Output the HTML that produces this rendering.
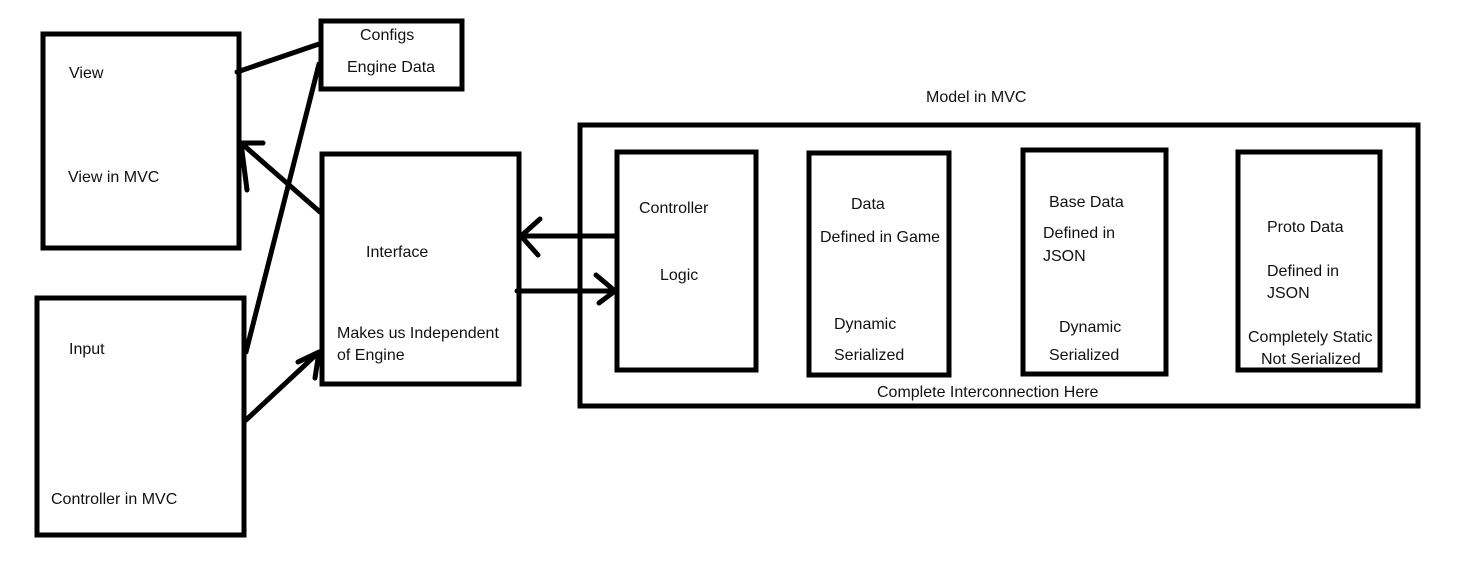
<!DOCTYPE html>
<html><head><meta charset="utf-8"><style>
html,body{margin:0;padding:0;background:#fff;}
svg text{font-family:"Liberation Sans",sans-serif;font-size:16px;fill:#111;}
</style></head><body>
<svg width="1461" height="567" xmlns="http://www.w3.org/2000/svg">
<g fill="none" stroke="#000" stroke-width="5" stroke-linecap="round" stroke-linejoin="miter">
<rect x="43" y="34" width="196" height="214" stroke-linecap="butt"/>
<rect x="37" y="298" width="207" height="237"/>
<rect x="321" y="21" width="141" height="68"/>
<rect x="322" y="154" width="197" height="230"/>
<rect x="580" y="125" width="838" height="281"/>
<rect x="617" y="152" width="139" height="218"/>
<rect x="809" y="153" width="140" height="222"/>
<rect x="1023" y="150" width="143" height="224"/>
<rect x="1238" y="152" width="142" height="218"/>
<path d="M237 72 L319 44"/>
<path d="M246 352 L319 64"/>
<path d="M320 212 L241 143 M241 143 L263 143 M241 143 L247 190"/>
<path d="M246 420 L319 352 M319 352 L298 362 M319 352 L315 378"/>
<path d="M616 236 L521 236 M521 236 L540 219 M521 236 L538 255"/>
<path d="M517 291 L615 291 M615 291 L596 275 M615 291 L599 303"/>
</g>
<text x="69" y="78">View</text>
<text x="68" y="182">View in MVC</text>
<text x="69" y="354">Input</text>
<text x="51" y="504">Controller in MVC</text>
<text x="360" y="40">Configs</text>
<text x="347" y="72">Engine Data</text>
<text x="366" y="257">Interface</text>
<text x="337" y="338">Makes us Independent</text>
<text x="337" y="360">of Engine</text>
<text x="926" y="102">Model in MVC</text>
<text x="639" y="213">Controller</text>
<text x="660" y="280">Logic</text>
<text x="851" y="209">Data</text>
<text x="820" y="242">Defined in Game</text>
<text x="834" y="329">Dynamic</text>
<text x="834" y="360">Serialized</text>
<text x="1049" y="207">Base Data</text>
<text x="1043" y="238">Defined in</text>
<text x="1043" y="261">JSON</text>
<text x="1059" y="332">Dynamic</text>
<text x="1049" y="360">Serialized</text>
<text x="1267" y="232">Proto Data</text>
<text x="1267" y="276">Defined in</text>
<text x="1267" y="298">JSON</text>
<text x="1248" y="342">Completely Static</text>
<text x="1261" y="364">Not Serialized</text>
<text x="877" y="397">Complete Interconnection Here</text>
</svg>
</body></html>
